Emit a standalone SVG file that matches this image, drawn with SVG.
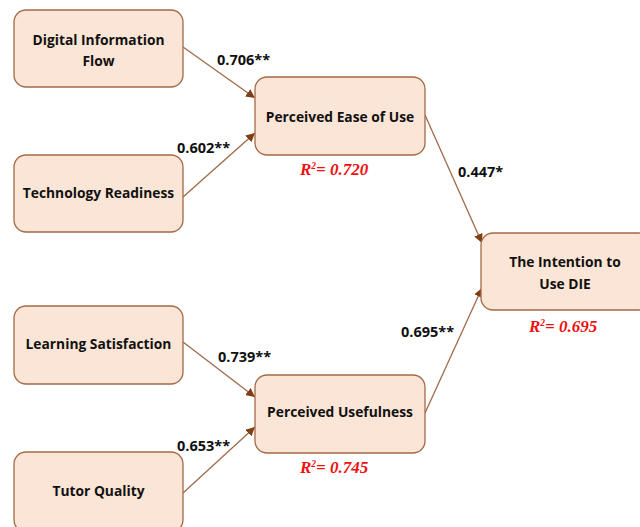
<svg xmlns="http://www.w3.org/2000/svg" width="640" height="527" viewBox="0 0 640 527">
<style>
.box{fill:#FBE5D6;stroke:#A46A45;stroke-width:1.3}
.t{font-family:"Open Sans","Liberation Sans",sans-serif;font-weight:bold;font-size:13.8px;fill:#111;text-anchor:middle}
.c{font-family:"Open Sans","Liberation Sans",sans-serif;font-weight:bold;font-size:14.5px;fill:#111}
.r{font-family:"Liberation Serif","Times New Roman",serif;font-weight:bold;font-style:italic;font-size:17px;fill:#EE1111}
.ln{stroke:#A06A48;stroke-width:1.3;fill:none;marker-end:url(#ah)}
</style>
<defs>
<marker id="ah" viewBox="0 0 10 10" refX="10" refY="5" markerWidth="9" markerHeight="9" markerUnits="userSpaceOnUse" orient="auto">
<path d="M0,0 L10,5 L0,10 z" fill="#7F3F12"/>
</marker>
</defs>
<rect width="640" height="527" fill="#fff"/>
<g id="connectors">
<line class="ln" x1="183" y1="47" x2="255" y2="98"/>
<line class="ln" x1="183" y1="197" x2="255" y2="133"/>
<line class="ln" x1="425" y1="115" x2="482" y2="243"/>
<line class="ln" x1="425" y1="413" x2="482" y2="288"/>
<line class="ln" x1="183" y1="342" x2="255" y2="397"/>
<line class="ln" x1="183" y1="493" x2="255" y2="427"/>
</g>
<g id="labels">
<text class="c" x="217" y="65">0.706**</text>
<text class="c" x="177" y="153">0.602**</text>
<text class="c" x="458" y="177">0.447*</text>
<text class="c" x="401" y="337">0.695**</text>
<text class="c" x="218" y="362">0.739**</text>
<text class="c" x="177" y="451">0.653**</text>
<text class="r" x="300" y="175">R<tspan font-size="9.5" dy="-6">2</tspan><tspan dy="6">= 0.720</tspan></text>
<text class="r" x="529" y="332">R<tspan font-size="9.5" dy="-6">2</tspan><tspan dy="6">= 0.695</tspan></text>
<text class="r" x="300" y="473">R<tspan font-size="9.5" dy="-6">2</tspan><tspan dy="6">= 0.745</tspan></text>
</g>
<g id="dif">
<rect class="box" x="14" y="10" width="169" height="77" rx="12"/>
<text class="t" x="98.5" y="45">Digital Information</text>
<text class="t" x="98.5" y="66">Flow</text>
</g>
<g id="tr">
<rect class="box" x="14" y="155" width="169" height="77" rx="12"/>
<text class="t" x="98.5" y="198">Technology Readiness</text>
</g>
<g id="peou">
<rect class="box" x="255" y="77" width="170" height="78" rx="12"/>
<text class="t" x="340" y="122">Perceived Ease of Use</text>
</g>
<g id="intention">
<rect class="box" x="481" y="233" width="170" height="77" rx="12"/>
<text class="t" x="565" y="267">The Intention to</text>
<text class="t" x="565" y="289">Use DIE</text>
</g>
<g id="ls">
<rect class="box" x="14" y="306" width="169" height="78" rx="12"/>
<text class="t" x="98.5" y="349">Learning Satisfaction</text>
</g>
<g id="pu">
<rect class="box" x="255" y="375" width="170" height="78" rx="12"/>
<text class="t" x="340" y="417">Perceived Usefulness</text>
</g>
<g id="tq">
<rect class="box" x="14" y="452" width="169" height="80" rx="12"/>
<text class="t" x="98.5" y="496">Tutor Quality</text>
</g>
</svg>
